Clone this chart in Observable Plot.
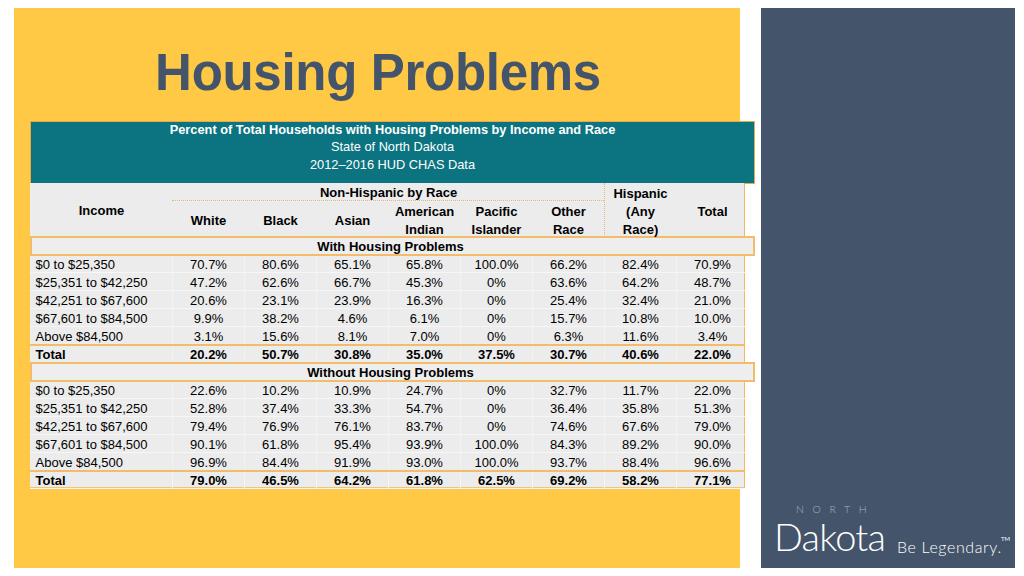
<!DOCTYPE html>
<html>
<head>
<meta charset="utf-8">
<script src="https://cdn.jsdelivr.net/npm/d3@7"></script>
<script src="https://cdn.jsdelivr.net/npm/@observablehq/plot@0.6"></script>
<style>
  html, body { margin: 0; padding: 0; background: #fff; }
  #slide { position: relative; width: 1024px; height: 576px; overflow: hidden; background: #fff; font-family: "Liberation Sans", Arial, sans-serif; }
  .abs { position: absolute; }
  #chart svg { position: absolute; left: 0; top: 0; }
</style>
</head>
<body>
<div id="slide">
  <div class="abs" style="left:14px;top:8px;width:726px;height:560px;background:#FFC845;"></div>
  <div class="abs" style="left:761px;top:8px;width:254px;height:560px;background:#44546A;"></div>
  <div class="abs" style="left:14px;top:47px;width:728px;text-align:center;font-weight:bold;font-size:51px;line-height:51px;color:#44546A;letter-spacing:-0.3px;">Housing Problems</div>
  <div class="abs" style="left:30px;top:121px;width:723px;height:61px;background:#0B7480;border:1px solid #E9A84A;"></div>
  <div class="abs" style="left:30px;top:120.5px;width:725px;text-align:center;color:#fff;font-size:12.8px;line-height:17.5px;">
    <div style="font-weight:bold;">Percent of Total Households with Housing Problems by Income and Race</div>
    <div>State of North Dakota</div>
    <div>2012–2016 HUD CHAS Data</div>
  </div>
  <div id="deco" class="abs" style="left:0;top:0;width:1024px;height:576px;"></div>
  <div id="chart"></div>
  <div class="abs" style="left:796px;top:504px;font-family:Lato, 'Open Sans', sans-serif;font-weight:300;font-size:10.5px;line-height:11px;letter-spacing:8.6px;color:#A9B1BC;">NORTH</div>
  <div class="abs" style="left:774px;top:522px;font-family:Lato, 'Open Sans', sans-serif;font-weight:300;font-size:38px;line-height:28px;color:#fff;letter-spacing:-0.8px;">Dakota</div>
  <div class="abs" style="left:897px;top:538px;font-family:Lato, 'Open Sans', sans-serif;font-weight:300;font-size:16px;line-height:18px;color:#fff;letter-spacing:0.6px;">Be Legendary.</div>
  <div class="abs" style="left:1001px;top:535px;font-family:Lato, sans-serif;font-size:6px;line-height:7px;color:#fff;">TM</div>
</div>
<script>
// ---- data ----
const races = ["White", "Black", "Asian", "American Indian", "Pacific Islander", "Other Race", "Hispanic (Any Race)", "Total"];
const raceHeaderLines = [["White"], ["Black"], ["Asian"], ["American", "Indian"], ["Pacific", "Islander"], ["Other", "Race"], ["Hispanic", "(Any", "Race)"], ["Total"]];
const incomes = ["$0 to $25,350", "$25,351 to $42,250", "$42,251 to $67,600", "$67,601 to $84,500", "Above $84,500", "Total"];
const sections = ["With Housing Problems", "Without Housing Problems"];
const withProblems = [
  [70.7, 80.6, 65.1, 65.8, 100.0, 66.2, 82.4, 70.9],
  [47.2, 62.6, 66.7, 45.3, 0, 63.6, 64.2, 48.7],
  [20.6, 23.1, 23.9, 16.3, 0, 25.4, 32.4, 21.0],
  [9.9, 38.2, 4.6, 6.1, 0, 15.7, 10.8, 10.0],
  [3.1, 15.6, 8.1, 7.0, 0, 6.3, 11.6, 3.4],
  [20.2, 50.7, 30.8, 35.0, 37.5, 30.7, 40.6, 22.0]
];
const withoutProblems = [
  [22.6, 10.2, 10.9, 24.7, 0, 32.7, 11.7, 22.0],
  [52.8, 37.4, 33.3, 54.7, 0, 36.4, 35.8, 51.3],
  [79.4, 76.9, 76.1, 83.7, 0, 74.6, 67.6, 79.0],
  [90.1, 61.8, 95.4, 93.9, 100.0, 84.3, 89.2, 90.0],
  [96.9, 84.4, 91.9, 93.0, 100.0, 93.7, 88.4, 96.6],
  [79.0, 46.5, 64.2, 61.8, 62.5, 69.2, 58.2, 77.1]
];
const groupLabel = "Non-Hispanic by Race";
const incomeHeader = "Income";

// ---- table built from the arrays ----
const headerKeys = ["h1", "h2", "h3"];
const rowKey = (s, inc) => s + "|" + inc;
const rowKeys = [...headerKeys];
sections.forEach(s => { rowKeys.push(s); incomes.forEach(inc => rowKeys.push(rowKey(s, inc))); });

const fmt = v => v === 0 ? "0%" : v.toFixed(1) + "%";
const cells = [];
[withProblems, withoutProblems].forEach((tbl, si) => {
  tbl.forEach((row, ri) => row.forEach((v, ci) => cells.push({
    key: rowKey(sections[si], incomes[ri]), race: races[ci], value: v, label: fmt(v), total: incomes[ri] === "Total"
  })));
});
const rowLabels = [];
sections.forEach(s => incomes.forEach(inc => rowLabels.push({key: rowKey(s, inc), label: inc, total: inc === "Total"})));

const headers = races.map((r, i) => ({race: r, text: raceHeaderLines[i].join("\n")}));
const isCentered = d => d.race === "Hispanic (Any Race)" || d.race === "Total";
const centeredHeaders = headers.filter(isCentered);
const raceHeaders = headers.filter(d => !isCentered(d));

const font = "Liberation Sans, Arial, sans-serif";
const TABLE_TOP = 184, TABLE_BOTTOM = 489;

function build(yRange) {
  return Plot.plot({
    width: 1024, height: 576,
    marginLeft: 172, marginRight: 276, marginTop: 184, marginBottom: 87,
    x: {type: "band", domain: races, paddingInner: 0, paddingOuter: 0, axis: null},
    y: {type: "band", domain: rowKeys, range: yRange, paddingInner: 0, paddingOuter: 0, align: 0.5, axis: null},
    style: {background: "transparent", fontFamily: font, fontSize: "13px", color: "#000"},
    marks: [
      Plot.text([groupLabel], {x: () => "Asian", y: () => "h1", text: d => d, dx: 36, fontWeight: "bold", fontSize: 13, fill: "#000"}),
      Plot.text([incomeHeader], {y: () => "h2", frameAnchor: "left", dx: -71, textAnchor: "middle", text: d => d, fontWeight: "bold", fontSize: 13, fill: "#000"}),
      Plot.text(raceHeaders, {x: "race", y: () => "h2", dy: 9, text: "text", lineHeight: 1.38, fontWeight: "bold", fontSize: 13, fill: "#000"}),
      Plot.text(centeredHeaders, {x: "race", y: () => "h2", text: "text", lineHeight: 1.38, fontWeight: "bold", fontSize: 13, fill: "#000"}),
      Plot.text(sections, {x: () => "Asian", y: d => d, text: d => d, dx: 38, fontWeight: "bold", fontSize: 13, fill: "#000"}),
      Plot.text(rowLabels.filter(d => !d.total), {y: "key", text: "label", frameAnchor: "left", dx: -137, textAnchor: "start", fontSize: 13, fill: "#000"}),
      Plot.text(rowLabels.filter(d => d.total), {y: "key", text: "label", frameAnchor: "left", dx: -137, textAnchor: "start", fontSize: 13, fontWeight: "bold", fill: "#000"}),
      Plot.text(cells.filter(d => !d.total), {x: "race", y: "key", text: "label", fontSize: 13, fill: "#000"}),
      Plot.text(cells.filter(d => d.total), {x: "race", y: "key", text: "label", fontSize: 13, fontWeight: "bold", fill: "#000"})
    ]
  });
}

let range = [TABLE_TOP, TABLE_BOTTOM];
let chart = build(range);
// if the band scale keeps an outer inset, widen the range so the bands fill the table
{
  const s = chart.scale("y");
  const start = s.apply(rowKeys[0]);
  const end = s.apply(rowKeys[rowKeys.length - 1]) + s.bandwidth;
  if (Math.abs(start - TABLE_TOP) > 0.5 || Math.abs(end - TABLE_BOTTOM) > 0.5) {
    const k = (TABLE_BOTTOM - TABLE_TOP) / (end - start);
    const a = TABLE_TOP - (start - TABLE_TOP) * k;
    const b = TABLE_BOTTOM + (TABLE_BOTTOM - end) * k;
    chart = build([a, b]);
  }
}
document.getElementById("chart").appendChild(chart);

// ---- decorations placed with the chart's own scales ----
const xs = chart.scale("x"), ys = chart.scale("y");
const bh = ys.bandwidth;
const yTop = k => ys.apply(k), xL = r => xs.apply(r);
const deco = document.getElementById("deco");
function box(x, y, w, h, style) {
  const d = document.createElement("div");
  d.style.cssText = `position:absolute;left:${x}px;top:${y}px;width:${w}px;height:${h}px;box-sizing:border-box;${style}`;
  deco.appendChild(d);
}
const tLeft = 30, tRight = 745, bandRight = 755;
const tTop = yTop("h1"), tBottom = yTop(rowKeys[rowKeys.length - 1]) + bh;
box(tLeft, tTop, tRight - tLeft, tBottom - tTop, "background:#ECECEC;border-right:1px solid #F2B765;border-bottom:2px solid #F2C27E;");
rowKeys.slice(3).forEach(k => box(tLeft, yTop(k) + bh - 1, tRight - tLeft, 1, "background:#F6F6F6;"));
races.forEach(r => box(xL(r), yTop(sections[0]), 1, tBottom - yTop(sections[0]), "background:#F6F3EC;"));
box(xL("White"), yTop("h1") + bh - 1, xL("Hispanic (Any Race)") - xL("White"), 1, "border-top:1px dotted #E9B870;");
box(xL("Hispanic (Any Race)"), yTop("h1"), 1, yTop("h3") + bh - yTop("h1"), "border-left:1px dotted #E9B870;");
sections.forEach(s => box(tLeft, yTop(s) - 1, bandRight - tLeft, bh + 2, "background:#EEEEEE;border:2px solid #F3BC6A;"));
sections.forEach(s => box(tLeft, yTop(rowKey(s, "Total")) - 1, tRight - tLeft, 2, "background:#F3BC6A;"));
</script>
</body>
</html>
